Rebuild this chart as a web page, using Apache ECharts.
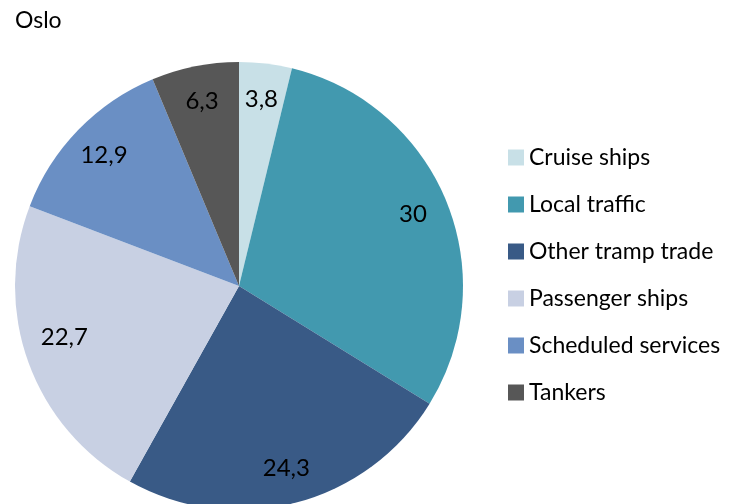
<!DOCTYPE html>
<html>
<head>
<meta charset="utf-8">
<script src="https://cdn.jsdelivr.net/npm/echarts@6/dist/echarts.min.js"></script>
<style>
html, body { margin: 0; padding: 0; background: #fff; }
#chart { width: 739px; height: 504px; }
</style>
</head>
<body>
<div id="chart"></div>
<script>
// Shipping segments in Oslo, share of total
const categories = ['Cruise ships', 'Local traffic', 'Other tramp trade', 'Passenger ships', 'Scheduled services', 'Tankers'];
const shares = [3.8, 30, 24.3, 22.7, 12.9, 6.3];
const colors = ['#c8e0e7', '#4299af', '#395a86', '#c8d0e3', '#6a8fc4', '#575757'];

const FONT = 'Lato';
const pieData = categories.map((name, i) => ({ name, value: shares[i] }));
// value labels with a small nudge for the passenger ships figure
const labelData = categories.map((name, i) => {
  const item = { name, value: shares[i] };
  if (name === 'Passenger ships') item.label = { offset: [2, -13] };
  return item;
});
const fmt = p => String(p.value).replace('.', ',');

const chart = echarts.init(document.getElementById('chart'));
chart.setOption({
  animation: false,
  color: colors,
  title: {
    text: 'Oslo',
    left: 10,
    top: 4,
    textStyle: { fontFamily: FONT, fontSize: 23, fontWeight: 'normal', color: '#000' }
  },
  legend: {
    orient: 'vertical',
    left: 503,
    top: 141,
    itemWidth: 16,
    itemHeight: 16,
    itemGap: 24,
    icon: 'rect',
    textStyle: { fontFamily: FONT, fontSize: 23, color: '#000', padding: [0, 0, 0, 0] },
    data: categories
  },
  series: [
    {
      type: 'pie',
      center: [239, 286],
      radius: [0, 224],
      startAngle: 90,
      clockwise: true,
      silent: true,
      label: { show: false },
      labelLine: { show: false },
      data: pieData
    },
    {
      // transparent ring that only carries the value labels
      type: 'pie',
      center: [239, 286],
      radius: [146, 224],
      startAngle: 90,
      clockwise: true,
      silent: true,
      itemStyle: { color: 'rgba(0,0,0,0)' },
      label: {
        show: true,
        position: 'inside',
        formatter: fmt,
        fontFamily: FONT,
        fontSize: 24,
        color: '#000'
      },
      labelLine: { show: false },
      data: labelData
    }
  ]
});
</script>
</body>
</html>
